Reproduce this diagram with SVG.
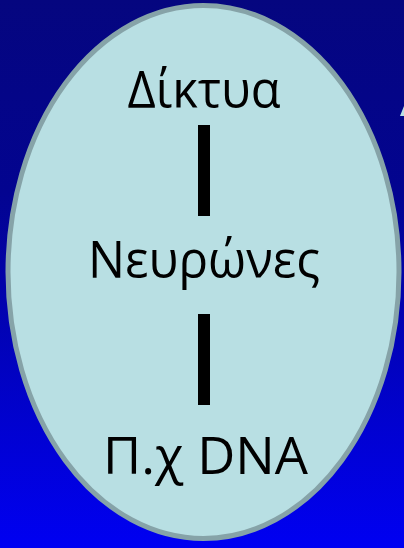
<svg xmlns="http://www.w3.org/2000/svg" width="404" height="548" viewBox="0 0 404 548">
<defs>
<linearGradient id="bg" x1="0" y1="0" x2="0" y2="1">
<stop offset="0" stop-color="#05067f"/>
<stop offset="0.35" stop-color="#030490"/>
<stop offset="1" stop-color="#0000f2"/>
</linearGradient>
</defs>
<style>
.lbl{font-family:"Open Sans","Noto Sans",sans-serif;font-size:51px;fill:#000;text-anchor:middle}
.bar{fill:#000}
</style>
<rect width="404" height="548" fill="url(#bg)"/>
<polygon points="400,116 404,106 404,116" fill="#b8dfe3"/>
<g id="oval">
<ellipse cx="203.5" cy="272" rx="195.5" ry="266.5" fill="#b8dfe3" stroke="#86a3a8" stroke-width="5"/>
</g>
<g id="node-diktya"><text class="lbl" x="204" y="108" textLength="153" lengthAdjust="spacingAndGlyphs">Δίκτυα</text></g>
<g id="node-neurones"><text class="lbl" x="204" y="278" textLength="232" lengthAdjust="spacingAndGlyphs">Νευρώνες</text></g>
<g id="node-dna"><text class="lbl" x="205.5" y="474" textLength="205" lengthAdjust="spacingAndGlyphs">Π.χ DNA</text></g>
<g id="connectors">
<rect class="bar" x="198" y="125" width="12" height="91"/>
<rect class="bar" x="198" y="314" width="12" height="91"/>
</g>
</svg>
